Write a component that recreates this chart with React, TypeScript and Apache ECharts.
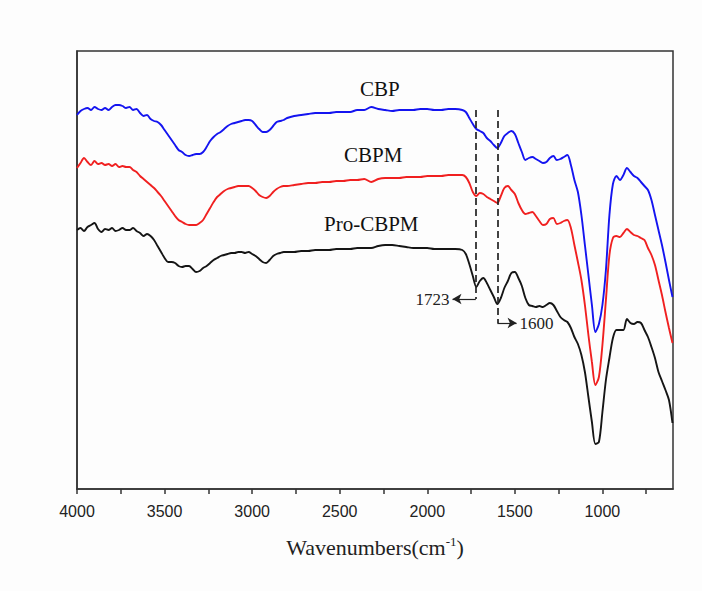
import React, { useEffect, useRef } from "react";
import * as echarts from "echarts";

// Wavenumber grid (cm-1)
const gridA: number[] = [];
for (let w = 4000; w >= 2800; w -= 20) gridA.push(w);
const gridB: number[] = [];
for (let w = 2760; w >= 1800; w -= 40) gridB.push(w);
const gridC: number[] = [];
for (let w = 1780; w >= 600; w -= 20) gridC.push(w);
const wavenumbers = [...gridA, ...gridB, ...gridC];

// Transmittance (arbitrary units, curves offset)
const cbp = [
  385, 389, 391, 392, 390, 393, 391, 390, 392, 390, 393, 395, 395, 394, 392, 393, 390, 391, 387, 384,
  385, 381, 379, 378, 375, 370, 365, 360, 355, 350, 348, 345, 344, 345, 346, 346, 348, 353, 359, 363,
  366, 368, 371, 374, 376, 377, 378, 379, 380, 380, 379, 375, 371, 368, 368, 370, 374, 378, 379, 380, 382,
  384, 385, 386, 387, 387, 387, 388, 388, 388, 390, 390, 393, 391, 390, 389, 390, 390, 390, 391, 391, 390, 390, 391, 391, 390,
  388, 382, 376, 371, 369, 367, 362, 359, 355, 352, 357, 364, 367, 369, 366, 357, 348, 340, 342, 343,
  341, 339, 337, 338, 342, 344, 340, 341, 343, 345, 335, 320, 308, 285, 255, 225, 195, 168, 176, 195,
  230, 285, 316, 324, 320, 325, 332, 328, 324, 322, 318, 314, 310, 300, 285, 270, 255, 238, 220, 203,
];
const cbpm = [
  332, 337, 342, 338, 335, 339, 336, 337, 335, 336, 334, 336, 333, 334, 333, 333, 330, 328, 324, 321,
  318, 315, 312, 308, 304, 299, 294, 289, 284, 280, 278, 276, 275, 275, 275, 277, 280, 286, 292, 298,
  303, 306, 309, 311, 312, 313, 314, 314, 314, 314, 312, 309, 305, 303, 302, 304, 308, 311, 313, 314, 314,
  315, 316, 317, 317, 318, 318, 319, 319, 320, 320, 321, 318, 321, 322, 322, 322, 323, 323, 323, 324, 324, 324, 325, 325, 325,
  323, 317, 308, 304, 307, 306, 303, 301, 299, 297, 304, 312, 314, 310, 306, 297, 290, 286, 287, 288,
  284, 279, 275, 276, 281, 282, 276, 277, 279, 280, 272, 255, 238, 220, 195, 165, 138, 115, 123, 155,
  200, 245, 262, 264, 263, 267, 271, 268, 265, 264, 262, 260, 252, 245, 235, 220, 205, 188, 172, 157,
];
const proCbpm = [
  270, 272, 269, 273, 275, 277, 271, 268, 271, 270, 272, 269, 270, 272, 270, 270, 272, 269, 267, 264,
  266, 264, 260, 254, 248, 242, 238, 238, 237, 234, 233, 234, 234, 231, 228, 229, 232, 234, 237, 240,
  242, 244, 245, 246, 247, 247, 248, 248, 247, 248, 246, 244, 241, 238, 237, 240, 244, 246, 247, 248, 248,
  248, 249, 249, 250, 250, 250, 251, 251, 251, 252, 252, 252, 254, 255, 255, 254, 253, 252, 252, 252, 251, 251, 251, 251, 250,
  246, 236, 224, 213, 219, 222, 217, 210, 203, 196, 202, 212, 219, 227, 228, 222, 214, 202, 195, 194,
  193, 194, 193, 195, 197, 195, 189, 183, 180, 178, 172, 163, 156, 145, 128, 103, 78, 56, 58, 88,
  120, 142, 162, 170, 170, 170, 181, 177, 176, 178, 177, 170, 163, 153, 142, 128, 119, 110, 100, 77,
];

const seriesNames = ["CBP", "CBPM", "Pro-CBPM"];
const seriesColors = ["#1414f0", "#f02020", "#151515"];
const tickValues = [1000, 1500, 2000, 2500, 3000, 3500, 4000];
const minorTickValues = [750, 1000, 1250, 1500, 1750, 2000, 2250, 2500, 2750, 3000, 3250, 3500, 3750, 4000];
const markedPeaks = [1723, 1600];

export default function App() {
  const ref = useRef<HTMLDivElement>(null);
  useEffect(() => {
    if (!ref.current) return;
    const chart = echarts.init(ref.current, null, { renderer: "svg" });
    const toPairs = (vals: number[]) => wavenumbers.map((w, i) => [w, vals[i]]);
    const serif = "'Liberation Serif', 'Times New Roman', serif";
    const dashed = { color: "#222", width: 1.7, type: [7, 4] as any };
    const solid = { color: "#222", width: 1.2, type: "solid" as any };
    const peakLabel = (text: string) => ({
      show: true,
      position: "end",
      formatter: text,
      fontFamily: serif,
      fontSize: 17,
      color: "#222",
      distance: 3,
    });
    chart.setOption({
      animation: false,
      backgroundColor: "#fdfdfd",
      grid: {
        left: 77,
        right: 29,
        top: 51,
        bottom: 102,
        show: true,
        borderColor: "#333",
        borderWidth: 1.5,
      },
      xAxis: {
        type: "value",
        inverse: true,
        min: 597,
        max: 4000,
        splitLine: { show: false },
        axisLine: { show: true, lineStyle: { color: "#333", width: 1.5 } },
        axisTick: {
          show: true,
          inside: false,
          length: 5,
          customValues: minorTickValues,
          lineStyle: { color: "#333", width: 1.5 },
        },
        axisLabel: {
          customValues: tickValues,
          formatter: (v: number) => String(v),
          margin: 14,
          color: "#222",
          fontSize: 16,
          fontFamily: "'Liberation Sans', Arial, sans-serif",
        },
        name: "{a|Wavenumbers(cm}{s|-1}{a|)}",
        nameLocation: "middle",
        nameGap: 46,
        nameTextStyle: {
          rich: {
            a: { fontSize: 22, fontFamily: serif, color: "#222" },
            s: { fontSize: 13, fontFamily: serif, color: "#222", padding: [0, 0, 12, 0] },
          },
        },
      },
      yAxis: {
        type: "value",
        min: 11,
        max: 449,
        splitLine: { show: false },
        axisLine: { show: true, lineStyle: { color: "#333", width: 1.5 } },
        axisTick: { show: false },
        axisLabel: { show: false },
      },
      series: [
        {
          name: seriesNames[0],
          type: "line",
          data: toPairs(cbp),
          showSymbol: false,
          smooth: 0.3,
          lineStyle: { color: seriesColors[0], width: 1.9 },
          markLine: {
            silent: true,
            symbol: ["none", "none"],
            lineStyle: dashed,
            label: { show: false },
            data: [
              [{ coord: [markedPeaks[0], 390] }, { coord: [markedPeaks[0], 201] }],
              [{ coord: [markedPeaks[1], 390] }, { coord: [markedPeaks[1], 177] }],
            ],
          },
        },
        {
          name: seriesNames[1],
          type: "line",
          data: toPairs(cbpm),
          showSymbol: false,
          smooth: 0.3,
          lineStyle: { color: seriesColors[1], width: 1.9 },
        },
        {
          name: seriesNames[2],
          type: "line",
          data: toPairs(proCbpm),
          showSymbol: false,
          smooth: 0.3,
          lineStyle: { color: seriesColors[2], width: 1.9 },
          markLine: {
            silent: true,
            symbol: ["none", "arrow"],
            symbolSize: [8, 9],
            lineStyle: solid,
            data: [
              [{ coord: [markedPeaks[0], 201] }, { coord: [1856, 201], label: peakLabel(String(markedPeaks[0])) }],
              [{ coord: [markedPeaks[1], 177] }, { coord: [1490, 177], label: peakLabel(String(markedPeaks[1])) }],
            ],
          },
        },
      ],
      graphic: [
        { type: "text", left: 360, top: 78, style: { text: seriesNames[0], font: `21px ${serif}`, fill: "#111" } },
        { type: "text", left: 344, top: 144, style: { text: seriesNames[1], font: `21px ${serif}`, fill: "#111" } },
        { type: "text", left: 324, top: 213, style: { text: seriesNames[2], font: `21px ${serif}`, fill: "#111" } },
      ],
    });
    return () => chart.dispose();
  }, []);
  return <div ref={ref} style={{ position: "fixed", left: 0, top: 0, width: 702, height: 591 }} />;
}
